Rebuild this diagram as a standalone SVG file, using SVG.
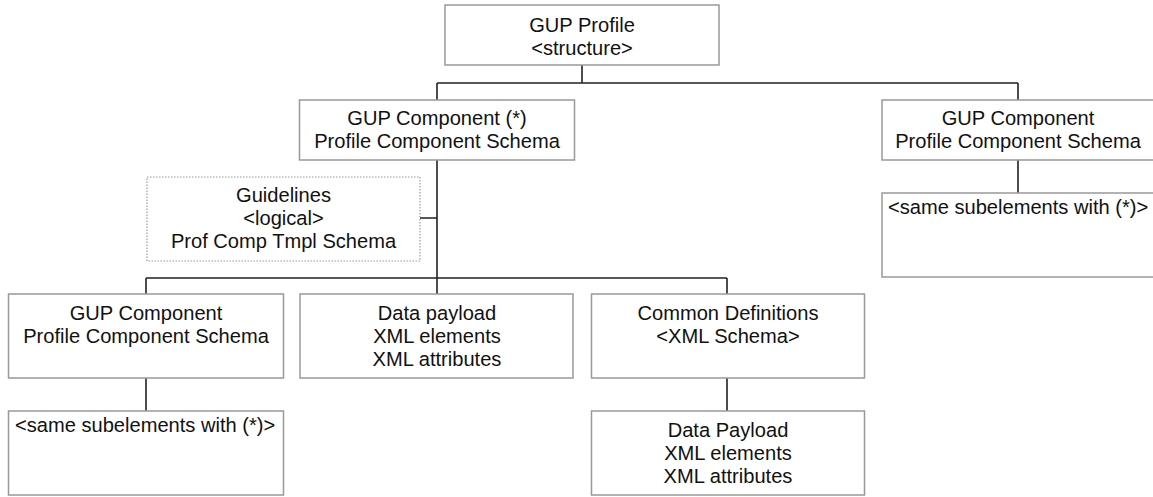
<svg xmlns="http://www.w3.org/2000/svg" width="1153" height="497" viewBox="0 0 1153 497">
<style>
.box{fill:#fff;stroke:#999;stroke-width:1.5}
.dot{fill:#fff;stroke:#999;stroke-width:1.2;stroke-dasharray:1.5 1.5}
.c{fill:none;stroke:#222;stroke-width:1.6}
text{font-family:"Liberation Sans",Arial,sans-serif;font-size:20.1px;fill:#111}
.m{text-anchor:middle}
</style>
<rect width="1153" height="497" fill="#fff"/>
<g id="connectors">
<path class="c" d="M582 65V83M437 83H1018M437 83V100M1018 83V100M437 160V294M420 218H437M146 278H727M146 278V294M727 278V294M146 378V411M727 378V411M1018 160V193"/>
</g>
<g id="gup-profile">
<rect class="box" x="445" y="5" width="274" height="60"/>
<text class="m" x="582" y="32">GUP Profile</text>
<text class="m" x="582" y="55">&lt;structure&gt;</text>
</g>
<g id="gup-component-star">
<rect class="box" x="299.5" y="100" width="275" height="60"/>
<text class="m" x="437" y="125">GUP Component (*)</text>
<text class="m" x="437" y="148">Profile Component Schema</text>
</g>
<g id="gup-component-right">
<rect class="box" x="882" y="100" width="275" height="60"/>
<text class="m" x="1018" y="125">GUP Component</text>
<text class="m" x="1018" y="148">Profile Component Schema</text>
</g>
<g id="same-right">
<rect class="box" x="882" y="193" width="275" height="84"/>
<text x="888" y="214">&lt;same subelements with (*)&gt;</text>
</g>
<g id="guidelines">
<rect class="dot" x="147" y="177" width="273" height="84"/>
<text class="m" x="283.5" y="202">Guidelines</text>
<text class="m" x="283.5" y="225">&lt;logical&gt;</text>
<text class="m" x="283.5" y="248">Prof Comp Tmpl Schema</text>
</g>
<g id="gup-component-left">
<rect class="box" x="8.5" y="294" width="275" height="84"/>
<text class="m" x="146" y="320">GUP Component</text>
<text class="m" x="146" y="343">Profile Component Schema</text>
</g>
<g id="same-left">
<rect class="box" x="8.5" y="411" width="275" height="84"/>
<text x="15" y="432">&lt;same subelements with (*)&gt;</text>
</g>
<g id="data-payload">
<rect class="box" x="300" y="294" width="273" height="84"/>
<text class="m" x="437" y="320">Data payload</text>
<text class="m" x="437" y="343">XML elements</text>
<text class="m" x="437" y="366">XML attributes</text>
</g>
<g id="common-definitions">
<rect class="box" x="591.5" y="294" width="273" height="84"/>
<text class="m" x="728" y="320">Common Definitions</text>
<text class="m" x="728" y="343">&lt;XML Schema&gt;</text>
</g>
<g id="data-payload-2">
<rect class="box" x="591.5" y="411" width="273" height="84"/>
<text class="m" x="728" y="437">Data Payload</text>
<text class="m" x="728" y="460">XML elements</text>
<text class="m" x="728" y="483">XML attributes</text>
</g>
</svg>
